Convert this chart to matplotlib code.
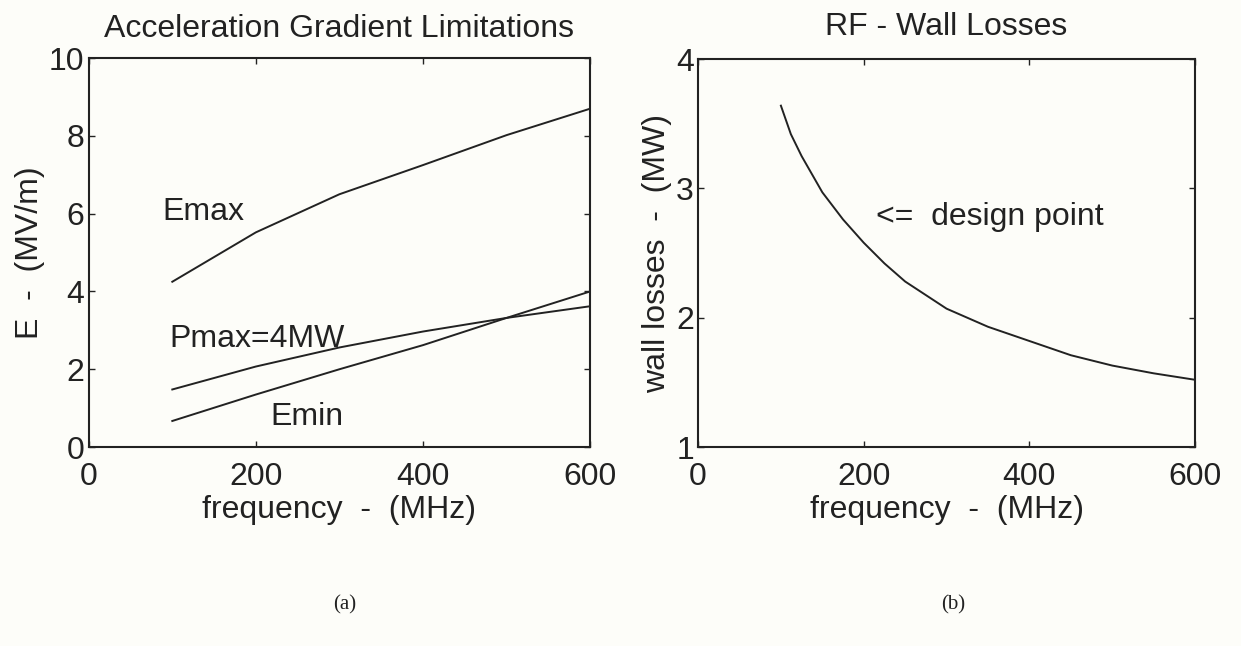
import matplotlib
matplotlib.use("Agg")
import matplotlib.pyplot as plt

# ---- data ----
freq_a = [100, 200, 300, 400, 500, 600]
emax = [4.25, 5.52, 6.50, 7.25, 8.02, 8.70]
pmax = [1.48, 2.07, 2.56, 2.97, 3.32, 3.62]
emin = [0.67, 1.35, 2.00, 2.62, 3.32, 4.00]

freq_b = [100, 112, 125, 150, 175, 200, 225, 250, 300, 350, 400, 450, 500, 550, 600]
wall = [3.64, 3.42, 3.25, 2.97, 2.76, 2.58, 2.42, 2.28, 2.07, 1.93, 1.82, 1.71, 1.63, 1.57, 1.52]

xticks = [0, 200, 400, 600]
yticks_a = [0, 2, 4, 6, 8, 10]
yticks_b = [1, 2, 3, 4]

plt.rcParams['font.family'] = ['Liberation Sans', 'DejaVu Sans']
bg = '#fdfdf9'
ink = '#222222'
fs = 23

fig = plt.figure(figsize=(12.41, 6.46), dpi=100, facecolor=bg)
ax1 = fig.add_axes([0.0715, 0.3080, 0.404, 0.602])
ax2 = fig.add_axes([0.5625, 0.3080, 0.4005, 0.6005])

for ax in (ax1, ax2):
    ax.set_facecolor(bg)
    for s in ax.spines.values():
        s.set_color(ink)
        s.set_linewidth(1.5)
    ax.tick_params(direction='in', length=4, width=1, colors=ink, labelsize=fs,
                   top=True, right=True)
    ax.tick_params(axis='x', pad=11)
    ax.tick_params(axis='y', pad=3)
    ax.set_xlim(0, 600)
    ax.set_xticks(xticks)
    ax.set_xlabel('frequency  -  (MHz)', fontsize=fs, color=ink, labelpad=2)

lw = 1.4
ax1.plot(freq_a, emax, color=ink, lw=lw)
ax1.plot(freq_a, pmax, color=ink, lw=lw)
ax1.plot(freq_a, emin, color=ink, lw=lw)
ax1.set_ylim(0, 10)
ax1.set_yticks(yticks_a)
ax1.set_title('Acceleration Gradient Limitations', fontsize=fs, color=ink, pad=15)
ax1.set_ylabel('E  -  (MV/m)', fontsize=fs, color=ink, labelpad=3)
ax1.text(88, 6.05, 'Emax', fontsize=fs, color=ink, va='center', ha='left')
ax1.text(97, 2.78, 'Pmax=4MW', fontsize=fs, color=ink, va='center', ha='left')
ax1.text(217, 0.77, 'Emin', fontsize=fs, color=ink, va='center', ha='left')

ax2.plot(freq_b, wall, color=ink, lw=lw)
ax2.set_ylim(1, 4)
ax2.set_yticks(yticks_b)
ax2.set_title('RF - Wall Losses', fontsize=fs, color=ink, pad=17)
ax2.set_ylabel('wall losses  -  (MW)', fontsize=fs, color=ink, labelpad=3)
ax2.text(215, 2.78, '<=  design point', fontsize=fs, color=ink, va='center', ha='left')

fig.text(0.278, 0.063, '(a)', fontsize=15, family='Liberation Serif', color=ink, ha='center', va='center')
fig.text(0.768, 0.063, '(b)', fontsize=15, family='Liberation Serif', color=ink, ha='center', va='center')

fig.savefig('out.png', dpi=100, facecolor=bg)
